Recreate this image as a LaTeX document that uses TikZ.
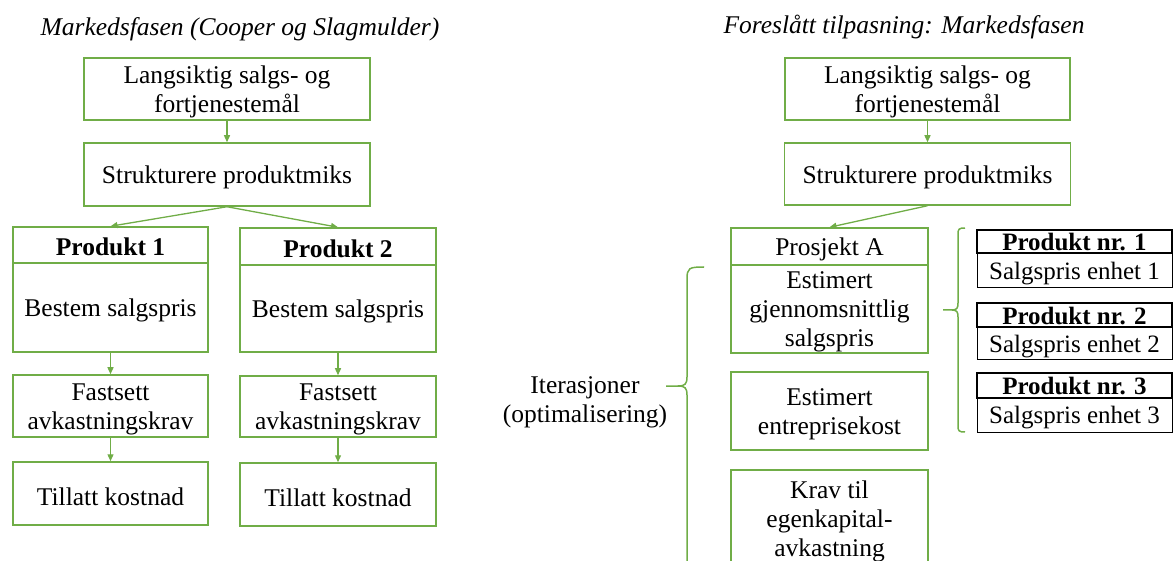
\documentclass[tikz,border=0pt]{standalone}
\usepackage{fontspec}
\setmainfont{Liberation Serif}
\usetikzlibrary{arrows.meta}
\definecolor{leaf}{RGB}{112,173,71}
\begin{document}
\begin{tikzpicture}[x=1pt,y=-1pt,
  txt/.style={font=\fontsize{25.5}{29}\selectfont, align=center},
  % box text sits slightly below the geometric centre
  tx/.style={label={[txt, inner sep=0pt, yshift=-3pt]center:{#1}}},
  bx/.style={label={[txt, font=\fontsize{25.5}{29}\selectfont\bfseries, inner sep=0pt, yshift=-2pt]center:{#1}}},
  kt/.style={label={[inner sep=0pt, yshift=-3pt, font=\fontsize{25}{28}\selectfont]center:{#1}}},
  kh/.style={label={[inner sep=0pt, yshift=-1pt, font=\fontsize{25}{28}\selectfont\bfseries]center:{#1}}},
  gbox/.style={draw=leaf, line width=1.5pt, inner sep=0pt},
  kbox/.style={draw=black, line width=1pt, inner sep=0pt, minimum width=195pt},
  khead/.style={kbox, line width=1.6pt},
  arr/.style={draw=leaf, line width=1.3pt, -{Triangle[length=7pt,width=6pt]}},
  brace/.style={draw=leaf, line width=1.5pt},
  ttl/.style={font=\fontsize{25.5}{29}\selectfont\itshape}]
\useasboundingbox (0,0) rectangle (1173,561);
\clip (0,0) rectangle (1173,561);

% ---------- left: Cooper og Slagmulder ----------
\node[ttl] (ttlL) at (240,29) {Markedsfasen (Cooper og Slagmulder)};
\node[gbox, minimum width=286pt, minimum height=62pt,
  tx={Langsiktig salgs- og\\fortjenestemål}] (l1) at (227,89) {};
\node[gbox, minimum width=286pt, minimum height=63pt,
  tx={Strukturere produktmiks}] (l2) at (227,174.5) {};

\node[gbox, minimum width=195pt, minimum height=36pt, bx={Produkt 1}] (p1h) at (110.5,245) {};
\node[gbox, minimum width=195pt, minimum height=89pt, tx={Bestem salgspris}] (p1b) at (110.5,307.5) {};
\node[gbox, minimum width=196pt, minimum height=37pt, bx={Produkt 2}] (p2h) at (338,246.5) {};
\node[gbox, minimum width=196pt, minimum height=87pt, tx={Bestem salgspris}] (p2b) at (338,308.5) {};

\node[gbox, minimum width=195pt, minimum height=62pt,
  tx={Fastsett\\avkastningskrav}] (f1) at (110.5,406) {};
\node[gbox, minimum width=195pt, minimum height=63pt, tx={Tillatt kostnad}] (t1) at (110.5,493.5) {};
\node[gbox, minimum width=196pt, minimum height=61pt,
  tx={Fastsett\\avkastningskrav}] (f2) at (338,406.5) {};
\node[gbox, minimum width=196pt, minimum height=63pt, tx={Tillatt kostnad}] (t2) at (338,494.5) {};

\draw[arr] (l1.south) -- (l2.north);
\draw[arr] (l2.south) -- (p1h.north);
\draw[arr] (l2.south) -- (p2h.north);
\draw[arr] (p1b.south) -- (f1.north);
\draw[arr] (f1.south) -- (t1.north);
\draw[arr] (p2b.south) -- (f2.north);
\draw[arr] (f2.south) -- (t2.north);

% ---------- right: proposed adaptation ----------
\node[ttl] (ttlR) at (904,27) {Foreslått tilpasning: Markedsfasen};
\node[gbox, minimum width=285pt, minimum height=62pt,
  tx={Langsiktig salgs- og\\fortjenestemål}] (r1) at (927.5,89) {};
\node[gbox, minimum width=286pt, minimum height=62pt,
  tx={Strukturere produktmiks}] (r2) at (927.5,174) {};

\node[gbox, minimum width=197pt, minimum height=37pt, tx={Prosjekt A}] (pa) at (829.5,246.5) {};
\node[gbox, minimum width=197pt, minimum height=88pt,
  tx={Estimert\\gjennomsnittlig\\salgspris}] (es) at (829.5,309) {};
\node[gbox, minimum width=197pt, minimum height=78pt,
  tx={Estimert\\entreprisekost}] (ee) at (829.5,411) {};
\node[gbox, minimum width=197pt, minimum height=96pt,
  tx={Krav til\\egenkapital-\\avkastning}] (kr) at (829.5,518) {};

\draw[arr] (r1.south) -- (r2.north);
\draw[arr] (r2.south) -- (pa.north);

% product price boxes
\node[khead, minimum height=23pt, kh={Produkt nr. 1}] (n1h) at (1074.5,241.5) {};
\node[kbox, minimum height=35pt, kt={Salgspris enhet 1}] (n1b) at (1074.5,270.5) {};
\node[khead, minimum height=24pt, kh={Produkt nr. 2}] (n2h) at (1074.5,315) {};
\node[kbox, minimum height=33pt, kt={Salgspris enhet 2}] (n2b) at (1074.5,343.5) {};
\node[khead, minimum height=25pt, kh={Produkt nr. 3}] (n3h) at (1074.5,385.5) {};
\node[kbox, minimum height=34pt, kt={Salgspris enhet 3}] (n3b) at (1074.5,415) {};

% iteration label and braces
\node[txt] (iter) at (585,402) {Iterasjoner\\(optimalisering)};
\draw[brace] (704,267) .. controls (689,267) and (687,268) .. (687,279)
  -- (687,377) .. controls (687,384) and (685,386) .. (678,386) -- (666,386);
\draw[brace] (678,386) .. controls (685,386) and (687,388) .. (687,395) -- (687,580);

\draw[brace] (965,228) .. controls (959,228) and (958,229) .. (958,234)
  -- (958,303) .. controls (958,308) and (957,310) .. (952,310) -- (943,310);
\draw[brace] (952,310) .. controls (957,310) and (958,312) .. (958,317)
  -- (958,426) .. controls (958,431) and (959,432) .. (965,432);
\end{tikzpicture}
\end{document}
